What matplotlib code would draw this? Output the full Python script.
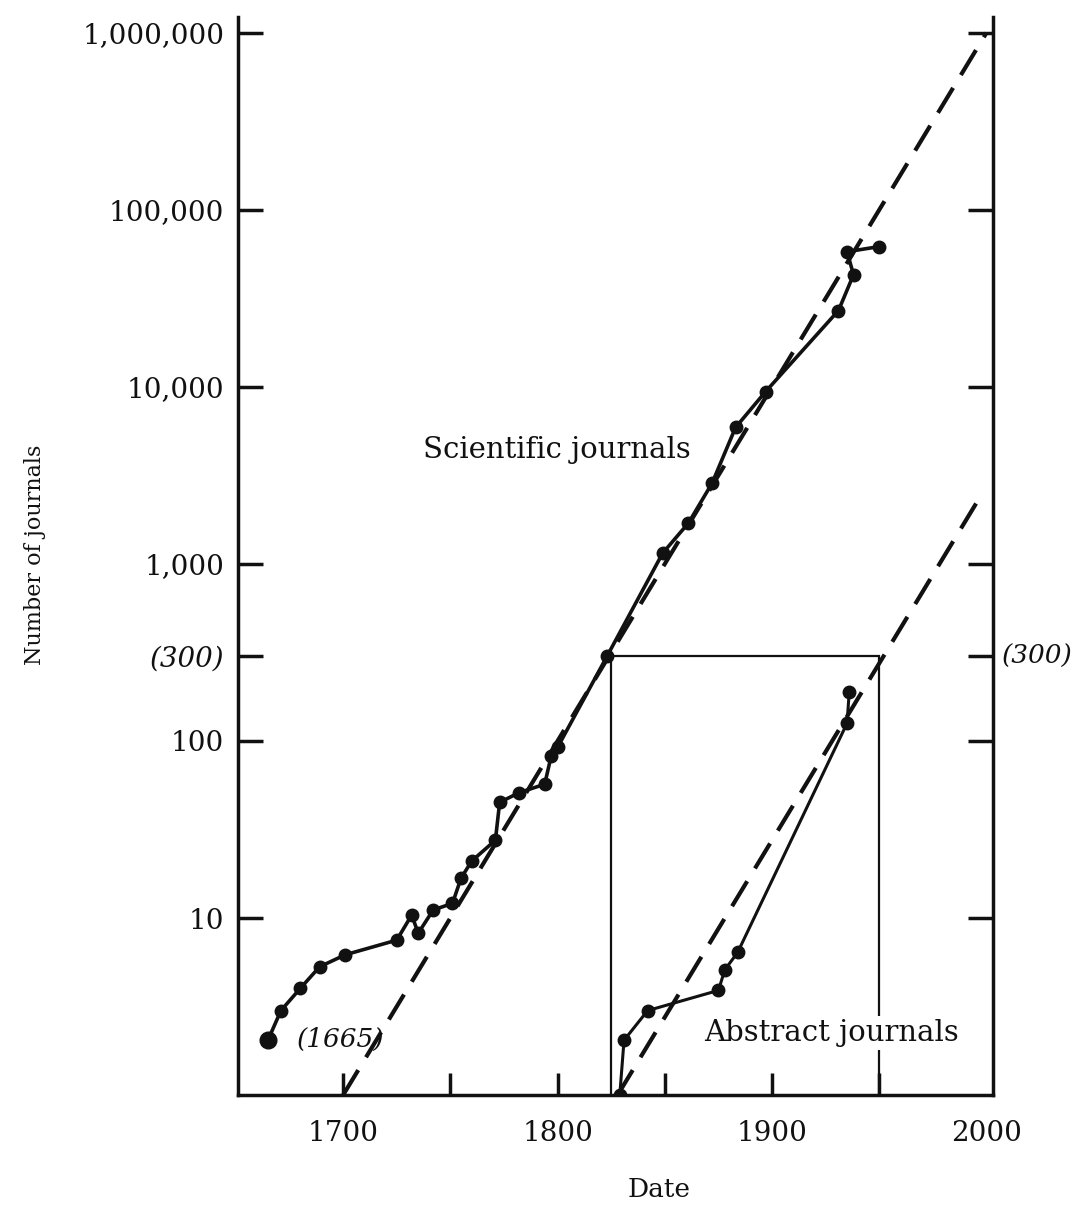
import matplotlib.pyplot as plt
from matplotlib.ticker import NullLocator

# --- data ---
sci_years = [1665, 1671, 1680, 1689, 1701, 1725, 1732, 1735, 1742, 1751, 1755, 1760,
             1771, 1773, 1782, 1794, 1797, 1800, 1823, 1849, 1861, 1872, 1883, 1897,
             1931, 1938, 1935, 1950]
sci_counts = [2.05, 3.0, 4.0, 5.3, 6.2, 7.5, 10.4, 8.2, 11.1, 12.1, 16.8, 21,
              27.5, 45, 51, 57, 82, 92, 300, 1150, 1700, 2850, 5900, 9400,
              27000, 43000, 58000, 62000]

abs_years = [1829, 1831, 1842, 1875, 1878, 1884, 1935, 1936]
abs_counts = [1.0, 2.04, 3.0, 3.9, 5.1, 6.4, 126, 189]

# dashed trend lines
sci_trend_years = [1700, 2000]
sci_trend_counts = [1, 1e6]
abs_trend_years = [1828, 1998]
abs_trend_counts = [1, 2500]

# box marking the 300-journal level
box_years = [1825, 1825, 1950, 1950]
box_counts = [1, 300, 300, 1]

ytick_vals = [10, 100, 300, 1000, 10000, 100000, 1000000]
ytick_labels = ['10', '100', '(300)', '1,000', '10,000', '100,000', '1,000,000']
xtick_vals = [1700, 1800, 1900, 2000]
xtick_minor = [1750, 1850, 1950]

ink = '#111111'
plt.rcParams['font.family'] = ['DejaVu Serif']

fig = plt.figure(figsize=(10.83, 12.06), dpi=100)
ax = fig.add_axes([0.2198, 0.092, 0.697, 0.894])
ax.set_yscale('log')

# box
ax.plot(box_years, box_counts, color=ink, lw=1.6, solid_joinstyle='miter', zorder=2)

# trend lines
dash = (0, (7, 3.6))
ax.plot(sci_trend_years, sci_trend_counts, color=ink, lw=3, linestyle=dash, zorder=3)
ax.plot(abs_trend_years, abs_trend_counts, color=ink, lw=3, linestyle=dash, zorder=3)

# data
ax.plot(sci_years, sci_counts, color=ink, lw=2.6, marker='o', ms=9, zorder=4)
ax.plot(sci_years[:1], sci_counts[:1], color=ink, marker='o', ms=12, ls='none', zorder=4)
ax.plot(abs_years, abs_counts, color=ink, lw=2.2, marker='o', ms=9, zorder=4)

ax.set_xlim(1651, 2003)
ax.set_ylim(1, 1.23e6)

for s in ['left', 'bottom', 'right']:
    ax.spines[s].set_linewidth(2.5)
    ax.spines[s].set_color(ink)
ax.spines['top'].set_visible(False)

ax.set_yticks(ytick_vals)
ax.set_yticklabels(ytick_labels)
ax.yaxis.set_minor_locator(NullLocator())
ax.tick_params(axis='y', which='major', direction='in', length=18, width=2.5,
               left=True, right=True, labelsize=20, pad=10, colors=ink)
for lab in ax.get_yticklabels():
    if lab.get_text() == '(300)':
        lab.set_style('italic')

ax.set_xticks(xtick_vals)
ax.set_xticks(xtick_minor, minor=True)
ax.tick_params(axis='x', which='both', direction='in', length=16, width=2.5,
               top=False, labelsize=20, pad=18, colors=ink)
# the 2000 tick sits on the right spine in the original, no separate mark
ax.xaxis.get_major_ticks()[-1].tick1line.set_visible(False)

# annotations
ax.text(1799.5, 4400, 'Scientific journals', fontsize=21, ha='center', va='center', color=ink)
ax.text(1927.8, 2.24, 'Abstract journals', fontsize=21, ha='center', va='center', color=ink,
        bbox=dict(facecolor='white', edgecolor='none', pad=2), zorder=5)
ax.text(1699, 2.05, '(1665)', fontsize=19, style='italic', ha='center', va='center', color=ink)
ax.text(1.012, 300, '(300)', transform=ax.get_yaxis_transform(), fontsize=19,
        style='italic', ha='left', va='center', color=ink)

fig.text(0.032, 0.54, 'Number of journals', rotation=90, fontsize=16,
         ha='center', va='center', color=ink)
fig.text(0.609, 0.014, 'Date', fontsize=19, ha='center', va='center', color=ink)

fig.savefig('out.png', dpi=100, facecolor='white')
